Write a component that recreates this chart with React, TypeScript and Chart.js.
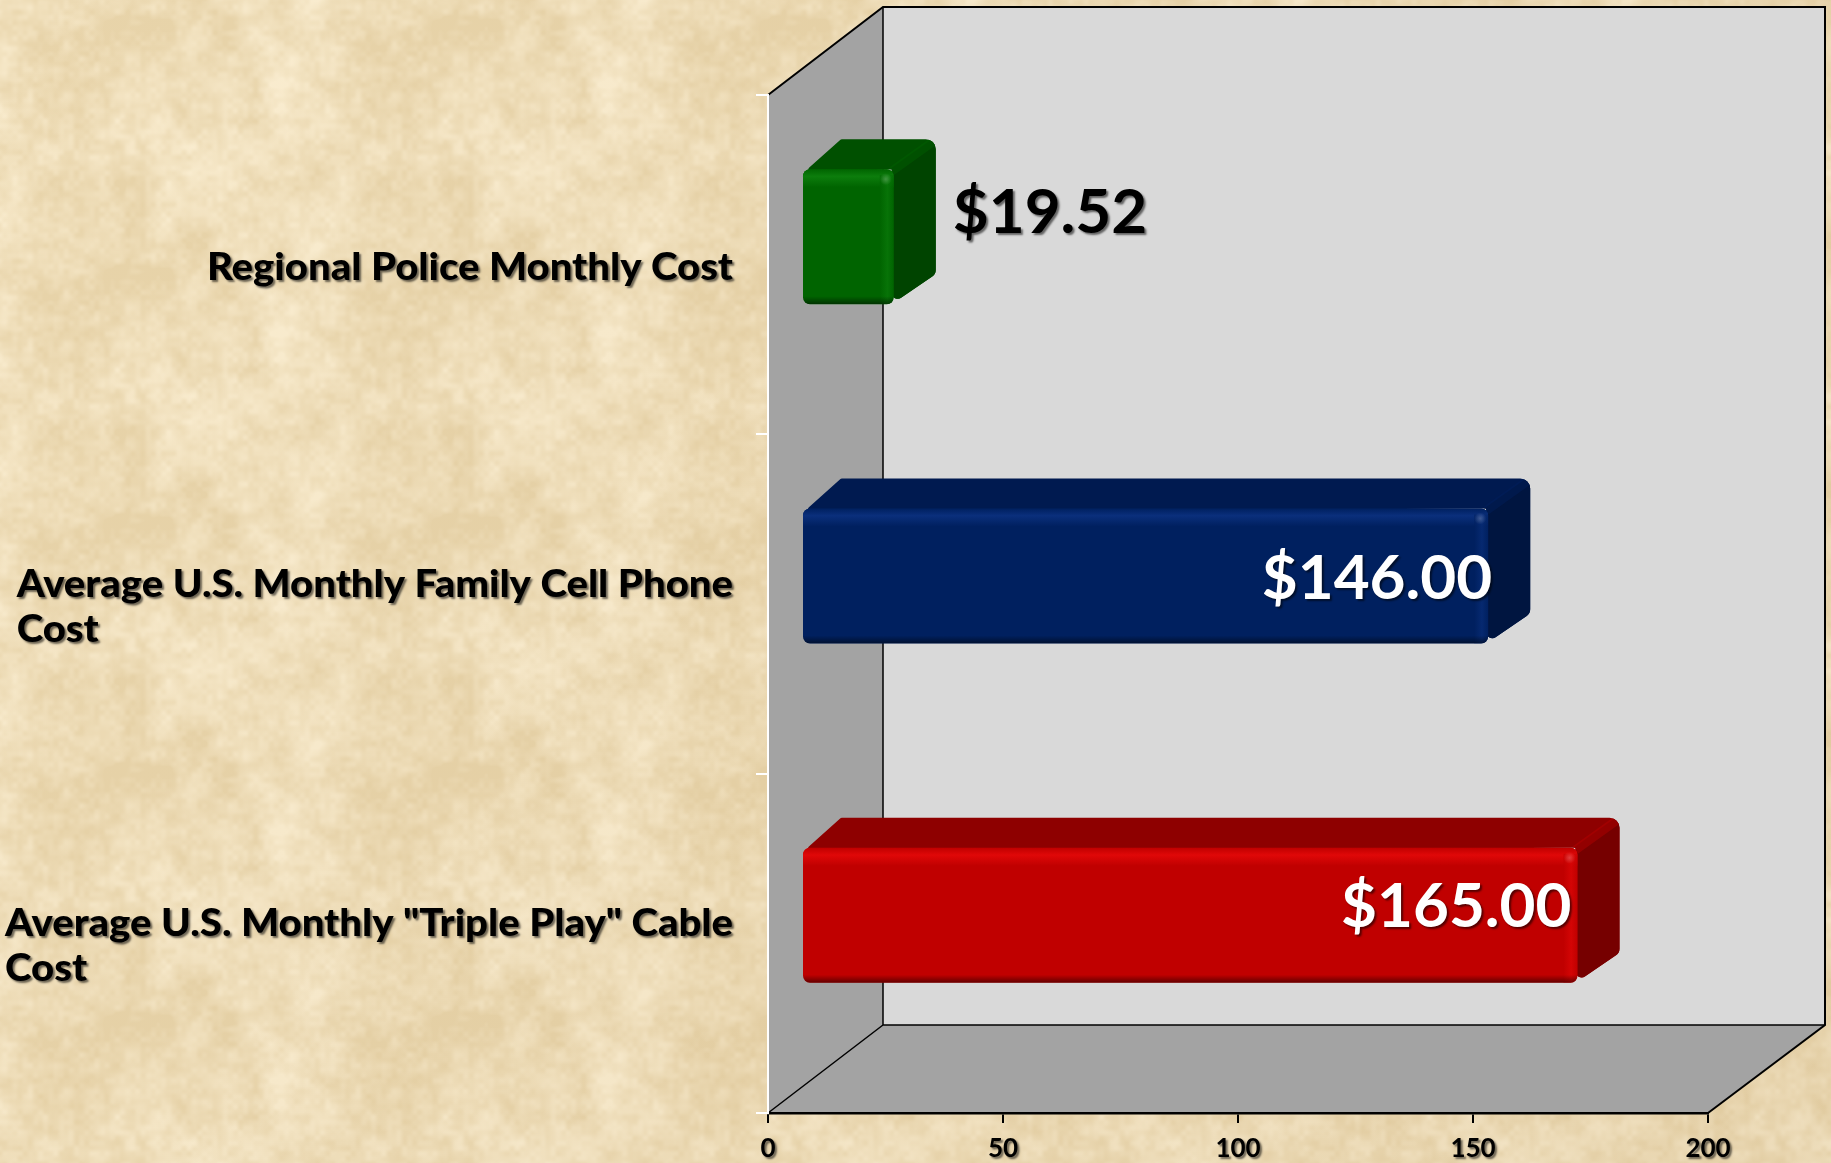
import React, { useEffect, useRef } from "react";
import { Chart, registerables } from "chart.js";

Chart.register(...registerables);

const categoryLines = [
  ["Regional Police Monthly Cost"],
  ["Average U.S. Monthly Family Cell Phone", "Cost"],
  ['Average U.S. Monthly "Triple Play" Cable', "Cost"],
];
const costs = [19.52, 146, 165];
const valueLabels = ["$19.52", "$146.00", "$165.00"];
const frontColors = ["#006400", "#00205F", "#C00000"];
const topColors = ["#005000", "#001A50", "#8E0000"];
const sideColors = ["#004400", "#001540", "#760000"];
const glowColors = ["#0C7D0C", "#0A2F7C", "#E00808"];
const labelColors = ["#000000", "#FFFFFF", "#FFFFFF"];

const FONT = "Lato, 'Open Sans', sans-serif";
const BAR_SHIFT = { x: 34, y: -28 };
const BAR_DEPTH = { x: 42, y: -30 };
const LABEL_NUDGE_X = [59, 4, -6];
const LABEL_NUDGE_Y = [-24, 3, -8];
const CATEGORY_STRETCH = 1.055;

function hash(x: number, y: number, s: number) {
  const v = Math.sin(x * 127.1 + y * 311.7 + s * 74.7) * 43758.5453;
  return v - Math.floor(v);
}
function smooth(t: number) {
  return t * t * (3 - 2 * t);
}
function periodicNoise(px: number, py: number, nx: number, ny: number, s: number) {
  const gx = px * nx;
  const gy = py * ny;
  const ix = Math.floor(gx);
  const iy = Math.floor(gy);
  const fx = smooth(gx - ix);
  const fy = smooth(gy - iy);
  const a = hash(ix % nx, iy % ny, s);
  const b = hash((ix + 1) % nx, iy % ny, s);
  const c = hash(ix % nx, (iy + 1) % ny, s);
  const d = hash((ix + 1) % nx, (iy + 1) % ny, s);
  return a + (b - a) * fx + (c - a) * fy + (a - b - c + d) * fx * fy;
}
function makeTile() {
  const w = 328;
  const h = 249;
  const tile = document.createElement("canvas");
  tile.width = w;
  tile.height = h;
  const t = tile.getContext("2d")!;
  const img = t.createImageData(w, h);
  for (let y = 0; y < h; y++) {
    for (let x = 0; x < w; x++) {
      const u = x / w;
      const v = y / h;
      let n =
        0.35 * periodicNoise(u, v, 4, 3, 1) +
        0.27 * periodicNoise(u, v, 11, 8, 2) +
        0.22 * periodicNoise(u, v, 26, 20, 3) +
        0.16 * periodicNoise(u, v, 64, 48, 4);
      n = Math.min(1, Math.max(0, (n - 0.27) / 0.46));
      const i = (y * w + x) * 4;
      img.data[i] = 232 + 18 * n;
      img.data[i + 1] = 212 + 25 * n;
      img.data[i + 2] = 170 + 38 * n;
      img.data[i + 3] = 255;
    }
  }
  t.putImageData(img, 0, 0);
  return tile;
}

function roundedPoly(ctx: CanvasRenderingContext2D, pts: number[][], r: number[]) {
  const n = pts.length;
  const last = pts[n - 1];
  ctx.beginPath();
  ctx.moveTo((last[0] + pts[0][0]) / 2, (last[1] + pts[0][1]) / 2);
  for (let i = 0; i < n; i++) {
    const p = pts[i];
    const q = pts[(i + 1) % n];
    ctx.arcTo(p[0], p[1], q[0], q[1], r[i]);
  }
  ctx.closePath();
}

const scenePlugin = {
  id: "scene",
  beforeDraw(chart: any) {
    const { ctx, chartArea: a, width, height } = chart;
    const tile = makeTile();
    ctx.save();
    ctx.translate(-47, -66);
    ctx.fillStyle = ctx.createPattern(tile, "repeat");
    ctx.fillRect(0, 0, width + 47, height + 66);
    ctx.restore();
    const shade = ctx.createLinearGradient(0, 0, width, height);
    shade.addColorStop(0, "rgba(150,110,50,0)");
    shade.addColorStop(1, "rgba(150,110,50,0.10)");
    ctx.fillStyle = shade;
    ctx.fillRect(0, 0, width, height);

    const bl = a.left + 115;
    const br = a.right + 117;
    const bt = a.top - 88;
    const bb = a.bottom - 88;
    ctx.save();
    ctx.fillStyle = "#D9D9D9";
    ctx.fillRect(bl, bt, br - bl, bb - bt);
    ctx.fillStyle = "#A3A3A3";
    ctx.beginPath();
    ctx.moveTo(a.left, a.top);
    ctx.lineTo(bl, bt);
    ctx.lineTo(bl, bb);
    ctx.lineTo(br, bb);
    ctx.lineTo(a.right, a.bottom);
    ctx.lineTo(a.left, a.bottom);
    ctx.closePath();
    ctx.fill();
    ctx.strokeStyle = "#000";
    ctx.lineWidth = 1.5;
    ctx.beginPath();
    ctx.moveTo(bl, bt);
    ctx.lineTo(bl, bb);
    ctx.lineTo(br, bb);
    ctx.moveTo(bl, bb);
    ctx.lineTo(a.left, a.bottom);
    ctx.stroke();
    ctx.lineWidth = 2;
    ctx.beginPath();
    ctx.moveTo(a.left, a.top);
    ctx.lineTo(bl, bt);
    ctx.lineTo(br, bt);
    ctx.lineTo(br, bb);
    ctx.lineTo(a.right, a.bottom);
    ctx.stroke();
    ctx.restore();

    const x = chart.scales.x;
    if (!x.__shadowed) {
      x.__shadowed = true;
      const draw = x.drawLabels;
      x.drawLabels = function (area: any) {
        const c = this.ctx;
        c.save();
        c.shadowColor = "rgba(0,0,0,0.55)";
        c.shadowOffsetX = 2;
        c.shadowOffsetY = 2;
        c.shadowBlur = 2;
        draw.call(this, area);
        c.restore();
      };
    }
  },
  beforeDatasetsDraw(chart: any) {
    const { ctx } = chart;
    ctx.save();
    ctx.translate(BAR_SHIFT.x, BAR_SHIFT.y);
    const meta = chart.getDatasetMeta(0);
    meta.data.forEach((bar: any, i: number) => {
      const left = bar.base;
      const right = bar.x;
      const top = bar.y - bar.height / 2;
      const bottom = bar.y + bar.height / 2;
      const dx = BAR_DEPTH.x;
      const dy = BAR_DEPTH.y;
      roundedPoly(
        ctx,
        [
          [left, top + 4],
          [left + dx - 4, top + dy],
          [right + dx, top + dy],
          [right + dx, bottom + dy],
          [right - 2, bottom],
          [right - 2, top],
        ],
        [3, 2, 10, 8, 6, 0]
      );
      ctx.fillStyle = topColors[i];
      ctx.fill();
      ctx.save();
      ctx.clip();
      ctx.fillStyle = sideColors[i];
      ctx.beginPath();
      ctx.moveTo(right - 4, top);
      ctx.lineTo(right - 4 + dx, top + dy);
      ctx.lineTo(right + dx + 2, top + dy);
      ctx.lineTo(right + dx + 2, bottom + dy + 4);
      ctx.lineTo(right - 4, bottom + 4);
      ctx.closePath();
      ctx.fill();
      ctx.strokeStyle = frontColors[i];
      ctx.globalAlpha = 0.4;
      ctx.lineWidth = 9;
      ctx.beginPath();
      ctx.moveTo(right - 2, top + 2);
      ctx.lineTo(right + dx - 2, top + dy + 2);
      ctx.stroke();
      ctx.restore();
    });
  },
  afterDatasetsDraw(chart: any) {
    const { ctx, scales } = chart;
    const meta = chart.getDatasetMeta(0);
    meta.data.forEach((bar: any, i: number) => {
      const left = bar.base;
      const right = bar.x;
      const top = bar.y - bar.height / 2;
      const bottom = bar.y + bar.height / 2;
      ctx.save();
      ctx.beginPath();
      ctx.roundRect(left, top, right - left, bottom - top, 7);
      ctx.clip();
      const g = ctx.createLinearGradient(0, top, 0, top + 18);
      g.addColorStop(0, frontColors[i]);
      g.addColorStop(0.4, glowColors[i]);
      g.addColorStop(1, frontColors[i]);
      ctx.fillStyle = g;
      ctx.fillRect(left, top, right - left, 18);
      const s = ctx.createLinearGradient(right - 14, 0, right, 0);
      s.addColorStop(0, frontColors[i]);
      s.addColorStop(0.55, glowColors[i]);
      s.addColorStop(1, frontColors[i]);
      ctx.globalAlpha = 0.6;
      ctx.fillStyle = s;
      ctx.fillRect(right - 14, top + 6, 14, bottom - top - 6);
      ctx.globalAlpha = 1;
      const b = ctx.createLinearGradient(0, bottom - 8, 0, bottom);
      b.addColorStop(0, "rgba(0,0,0,0)");
      b.addColorStop(1, "rgba(0,0,0,0.5)");
      ctx.fillStyle = b;
      ctx.fillRect(left, bottom - 8, right - left, 8);
      const d = ctx.createRadialGradient(right - 8, top + 10, 0, right - 8, top + 10, 6);
      d.addColorStop(0, "rgba(255,255,255,0.22)");
      d.addColorStop(1, "rgba(255,255,255,0)");
      ctx.fillStyle = d;
      ctx.fillRect(right - 14, top + 4, 12, 12);
      ctx.restore();
    });
    ctx.restore();

    ctx.save();
    ctx.shadowColor = "rgba(0,0,0,0.55)";
    ctx.shadowOffsetX = 2;
    ctx.shadowOffsetY = 2;
    ctx.shadowBlur = 2;
    ctx.textBaseline = "middle";
    // value labels: outside the short bar, inside the long ones
    ctx.font = `bold 62px ${FONT}`;
    meta.data.forEach((bar: any, i: number) => {
      const inside = costs[i] > 50;
      ctx.fillStyle = labelColors[i];
      ctx.textAlign = inside ? "right" : "left";
      ctx.fillText(valueLabels[i], bar.x + BAR_SHIFT.x + LABEL_NUDGE_X[i], bar.y + BAR_SHIFT.y + LABEL_NUDGE_Y[i]);
    });
    // category labels: block flush right, lines flush left inside the block
    ctx.font = `900 38px ${FONT}`;
    ctx.fillStyle = "#000";
    ctx.textAlign = "left";
    const yScale = scales.y;
    categoryLines.forEach((lines, i) => {
      const w = Math.max(...lines.map((l) => ctx.measureText(l).width)) * CATEGORY_STRETCH;
      const x0 = chart.chartArea.left - 35 - w;
      const yc = yScale.getPixelForTick(i) + 3;
      lines.forEach((l, k) => {
        ctx.save();
        ctx.translate(x0, yc + (k - (lines.length - 1) / 2) * 45.5);
        ctx.scale(CATEGORY_STRETCH, 1);
        ctx.fillText(l, 0, 0);
        ctx.restore();
      });
    });
    ctx.restore();
  },
};

export default function App() {
  const ref = useRef<HTMLCanvasElement>(null);
  useEffect(() => {
    const chart = new Chart(ref.current!, {
      type: "bar",
      plugins: [scenePlugin],
      data: {
        labels: categoryLines.map((l) => l.join(" ")),
        datasets: [
          {
            data: costs,
            backgroundColor: frontColors,
            borderRadius: 7,
            borderSkipped: false,
            barPercentage: 0.398,
            categoryPercentage: 1,
            clip: false as any,
          },
        ],
      },
      options: {
        indexAxis: "y",
        animation: false,
        responsive: false,
        layout: { padding: { left: 768, top: 95, right: 123, bottom: 0 } },
        plugins: { legend: { display: false }, tooltip: { enabled: false }, title: { display: false } },
        scales: {
          x: {
            min: 0,
            max: 200,
            afterFit: (s: any) => {
              s.height = 50;
            },
            ticks: {
              stepSize: 50,
              maxRotation: 0,
              padding: 10,
              color: "#000",
              font: { family: FONT, size: 26, weight: "bold" },
            },
            grid: { drawOnChartArea: false, drawTicks: true, tickLength: 10, color: "#000", lineWidth: 2 },
            border: { color: "#000", width: 2.5 },
          },
          y: {
            afterFit: (s: any) => {
              s.width = 0;
            },
            ticks: { display: false },
            grid: { drawOnChartArea: false, drawTicks: true, tickLength: 12, color: "#FFFFFF", lineWidth: 2 },
            border: { color: "#FFFFFF", width: 2 },
          },
        },
      },
    } as any);
    return () => chart.destroy();
  }, []);
  return (
    <div style={{ position: "absolute", left: 0, top: 0, width: 1831, height: 1163, overflow: "hidden" }}>
      <canvas ref={ref} width={1831} height={1163} style={{ display: "block" }} />
    </div>
  );
}
